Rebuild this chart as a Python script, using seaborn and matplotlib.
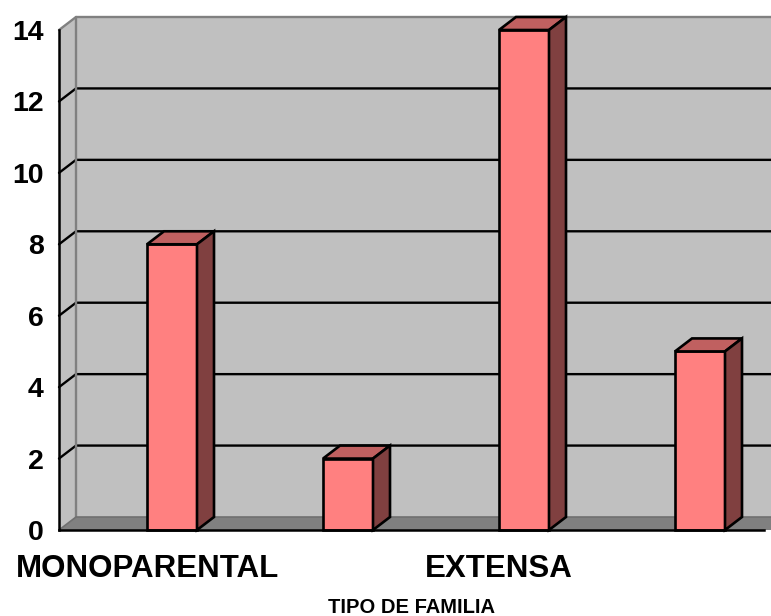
import matplotlib
matplotlib.use("Agg")
import matplotlib.pyplot as plt
from matplotlib.patches import Polygon
import seaborn as sns
import pandas as pd

# ---- data ----
positions = [0, 1, 2, 3]
values = [8, 2, 14, 5]
tick_labels = ["MONOPARENTAL", "", "EXTENSA", ""]
y_ticks = [0, 2, 4, 6, 8, 10, 12, 14]
x_title = "TIPO DE FAMILIA"

sns.set_style("white")
plt.rcParams["font.family"] = ["Liberation Sans", "DejaVu Sans"]
plt.rcParams["text.color"] = "black"
plt.rcParams["axes.labelcolor"] = "black"
plt.rcParams["xtick.color"] = "black"
plt.rcParams["ytick.color"] = "black"

W, H, DPI = 771, 616, 100
fig = plt.figure(figsize=(W / DPI, H / DPI), dpi=DPI)
fig.patch.set_facecolor("white")

left_px, right_px, bottom_px, top_px = 59, 764, 530, 30
ax = fig.add_axes([left_px / W, 1 - bottom_px / H,
                   (right_px - left_px) / W, (bottom_px - top_px) / H])

cat_px = 176.0
bar_w = 50 / cat_px
x0 = -0.5 - bar_w / 2
x1 = x0 + (right_px - left_px) / cat_px
ymax = 14
ax.set_xlim(x0, x1)
ax.set_ylim(0, ymax)
ax.set_facecolor("none")

# depth offset in data units
ddx = 17 / cat_px
ddy = 13 / ((bottom_px - top_px) / ymax)

wall_c = "#C0C0C0"
edge_gray = "#808080"
floor_c = "#808080"

# back wall
ax.add_patch(Polygon([(x0 + ddx, ddy), (x1 + 2 * ddx, ddy), (x1 + 2 * ddx, ymax + ddy),
                      (x0 + ddx, ymax + ddy)], closed=True, facecolor=wall_c,
                     edgecolor="none", clip_on=False, zorder=0.5))
# side wall
ax.add_patch(Polygon([(x0, 0), (x0, ymax), (x0 + ddx, ymax + ddy), (x0 + ddx, ddy)],
                     closed=True, facecolor=wall_c, edgecolor="none",
                     clip_on=False, zorder=0.5))
# floor
ax.add_patch(Polygon([(x0, 0), (x1 + 2 * ddx, 0), (x1 + 2 * ddx, ddy), (x0 + ddx, ddy)],
                     closed=True, facecolor=floor_c, edgecolor="none",
                     clip_on=False, zorder=0.6))

# gridlines on back wall + diagonals on side wall
for yv in y_ticks[1:-1]:
    ax.plot([x0, x0 + ddx, x1 + 2 * ddx], [yv, yv + ddy, yv + ddy], color="black",
            lw=1.7, clip_on=False, zorder=1, solid_joinstyle="miter")
# top edge of back wall and wall corner edges (gray)
ax.plot([x0, x0 + ddx, x1 + 2 * ddx], [ymax, ymax + ddy, ymax + ddy], color=edge_gray,
        lw=1.7, clip_on=False, zorder=1)
ax.plot([x0 + ddx, x0 + ddx], [ddy, ymax + ddy], color=edge_gray, lw=1.7,
        clip_on=False, zorder=1)
ax.plot([x0, x0 + ddx, x1 + 2 * ddx], [0, ddy, ddy], color="#707070", lw=1.2,
        clip_on=False, zorder=1)

# bars (front faces)
df = pd.DataFrame({"pos": positions, "val": values})
sns.barplot(data=df, x="pos", y="val", color="#FF8080", saturation=1,
            width=bar_w, edgecolor="black", linewidth=1.9, ax=ax, zorder=3,
            errorbar=None)

for p in list(ax.patches):
    if not hasattr(p, "get_width"):
        continue
    xl = p.get_x()
    xr = xl + p.get_width()
    h = p.get_height()
    p.set_clip_on(False)
    ax.add_patch(Polygon([(xl, h), (xr, h), (xr + ddx, h + ddy), (xl + ddx, h + ddy)],
                         closed=True, facecolor="#C06060", edgecolor="black",
                         lw=1.9, clip_on=False, zorder=3, joinstyle="miter"))
    ax.add_patch(Polygon([(xr, 0), (xr, h), (xr + ddx, h + ddy), (xr + ddx, ddy)],
                         closed=True, facecolor="#804040", edgecolor="black",
                         lw=1.9, clip_on=False, zorder=3, joinstyle="miter"))

ax.set_xlim(x0, x1)
ax.set_ylim(0, ymax)

# axes styling
for s in ["top", "right"]:
    ax.spines[s].set_visible(False)
for s in ["left", "bottom"]:
    ax.spines[s].set_color("black")
    ax.spines[s].set_linewidth(1.8)
    ax.spines[s].set_zorder(4)

ax.set_yticks(y_ticks)
ax.set_yticklabels([str(v) for v in y_ticks], fontsize=20.5, fontweight="bold")
ax.tick_params(axis="y", direction="out", length=7, width=1.5, pad=4, color="black")

bounds = [x0 + i for i in range(5)]
ax.set_xticks(bounds)
ax.set_xticklabels([""] * 5)
ax.set_xticks([x0 + 0.5 + i for i in range(4)], minor=True)
ax.set_xticklabels(tick_labels, minor=True, fontsize=22.5, fontweight="bold")
ax.tick_params(axis="x", which="major", direction="out", length=7, width=1.3, color="black")
ax.tick_params(axis="x", which="minor", length=0, pad=17)

ax.set_xlabel(x_title, fontsize=14.5, fontweight="bold", labelpad=10.5)
ax.set_ylabel("")

fig.savefig("out.png", dpi=DPI, facecolor="white")
